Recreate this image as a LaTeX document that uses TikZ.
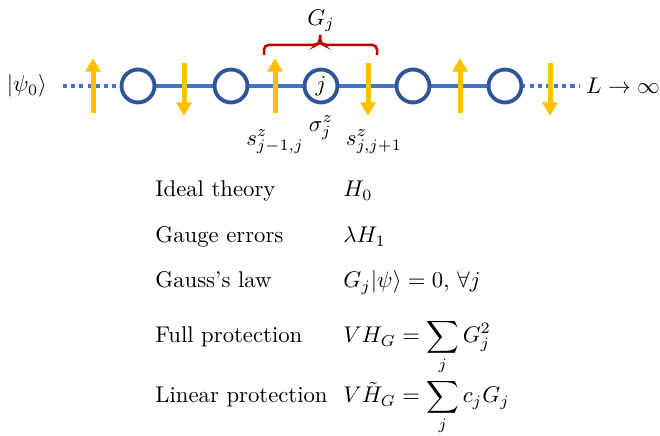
\documentclass[tikz,border=0pt]{standalone}
\usepackage{amsmath}
\usepackage{amssymb}
\usetikzlibrary{arrows.meta, calc}
\definecolor{chainblue}{HTML}{4472C4}
\definecolor{sitedark}{HTML}{2F5597}
\definecolor{spingold}{HTML}{FFC000}
\definecolor{gaussred}{HTML}{C00000}

\begin{document}
\begin{tikzpicture}[x=0.44pt, y=-0.44pt,
        site/.style={circle, draw=sitedark, line width=1.7pt, minimum size=14.5pt,
                     inner sep=0pt, fill=white},
        link/.style={chainblue, line width=1.6pt},
        tail/.style={link, dash pattern=on 1.8pt off 1.8pt},
        spin/.style={spingold, line width=2.2pt, -{Triangle[width=6.5pt,length=6pt]}},
        brace/.style={gaussred, line width=1.1pt, rounded corners=2pt},
        lbl/.style={anchor=base west, inner sep=0pt},
        every node/.style={inner sep=0pt}
    ]
    \useasboundingbox (0,0) rectangle (660,436);

    % Chain: sites
    \foreach \n/\x in {1/138, 2/231, 3/321, 4/413, 5/505}
        \coordinate (c\n) at (\x,86);
    \coordinate (lend) at (63,86);
    \coordinate (rend) at (580,86);

    % Links behind the sites
    \draw[tail] (lend) -- (c1);
    \draw[tail] (c5) -- (rend);
    \draw[link] (c1) -- (c5);
    \foreach \n in {1,...,5}
        \node[site] (s\n) at (c\n) {};
    \node at (s3) {$j$};

    % Ends of the chain
    \node (psi) at (27,86) {$|\psi_0\rangle$};
    \node (inf) at (623,86) {$L \to \infty$};

    % Spins on the links
    \foreach \n/\x in {1/93, 2/275, 3/460} {
        \coordinate (ub\n) at (\x,113);
        \coordinate (ut\n) at (\x,58);
        \draw[spin] (ub\n) -- (ut\n);
    }
    \foreach \n/\x in {1/184, 2/368, 3/550} {
        \coordinate (dt\n) at (\x,63);
        \coordinate (db\n) at (\x,116);
        \draw[spin] (dt\n) -- (db\n);
    }

    % Gauss operator bracket
    \coordinate (bl) at (264,55);
    \coordinate (br) at (377,55);
    \coordinate (bm) at (320,35);
    \draw[brace] (bl) -- (264,45) -- (316,45) -- (320,43) -- (bm);
    \draw[brace] (bm) -- (320,43) -- (324,45) -- (377,45) -- (br);
    \node (gj) at (321,21) {$G_j$};

    % Labels under the chain
    \node (sl) at (275,142) {$s^z_{j-1,j}$};
    \node (sig) at (321,128) {$\sigma^z_j$};
    \node (sr) at (374,142) {$s^z_{j,j+1}$};

    % Table
    \node[lbl] (t1) at (155,197) {Ideal theory};
    \node[lbl] (t2) at (155,243) {Gauge errors};
    \node[lbl] (t3) at (155,288) {Gauss's law};
    \node[lbl] (t4) at (155,343) {Full protection};
    \node[lbl] (t5) at (155,403) {Linear protection};
    \node[lbl] (e1) at (343,197) {$H_0$};
    \node[lbl] (e2) at (343,243) {$\lambda H_1$};
    \node[lbl] (e3) at (343,288) {$G_j|\psi\rangle = 0,\, \forall j$};
    \node[lbl] (e4) at (343,343) {$\displaystyle VH_G = \sum_j G_j^2$};
    \node[lbl] (e5) at (343,403) {$\displaystyle V\tilde{H}_G = \sum_j c_jG_j$};
\end{tikzpicture}
\end{document}
